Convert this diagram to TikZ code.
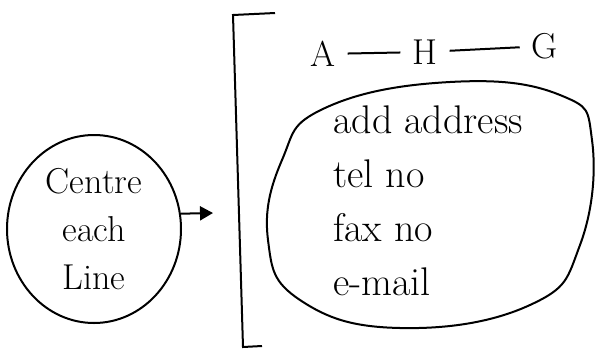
\documentclass[tikz,border=0pt]{standalone}
\usetikzlibrary{arrows.meta,shapes.geometric,positioning}
\tikzset{
	sketch/.style={line width=2pt},
	hand/.style={font=\fontsize{36}{48}\selectfont}
}
\begin{document}
\begin{tikzpicture}[x=1pt,y=-1pt]
    \useasboundingbox (0,0) rectangle (595,349);
    % left bubble
    \node[ellipse, draw, sketch, hand, align=center, inner sep=0, minimum width=174pt, minimum height=188pt] (centre) at (94,229) {Centre\\each\\Line};
    \coordinate (tip) at (213,213);
    \draw[sketch, arrows={-Stealth[length=13, width=14, inset=0]}] (centre.10) -- (tip);
    % bracket
    \draw[sketch] (275,13) -- (233,15) -- (243,347) -- (262,346);
    % A -- H -- G
    \node[hand, inner sep=12pt] (a) at (323,54) {A};
    \node[hand, inner sep=12pt] (h) at (425,52) {H};
    \node[hand, inner sep=12pt] (g) at (545,46) {G};
    \draw[sketch] (a) -- (h) -- (g);
    % right bubble
    \node[font=\fontsize{40}{54}\selectfont, align=left, inner sep=0, anchor=north west] (fields) at (333,106) {add address\\tel no\\fax no\\e-mail};
    \draw[sketch] plot[smooth cycle, tension=0.75] coordinates {(268,240) (282,160) (325,108) (450,82) (560,95) (592,140) (580,245) (530,305) (400,328) (300,300)};
\end{tikzpicture}
\end{document}
